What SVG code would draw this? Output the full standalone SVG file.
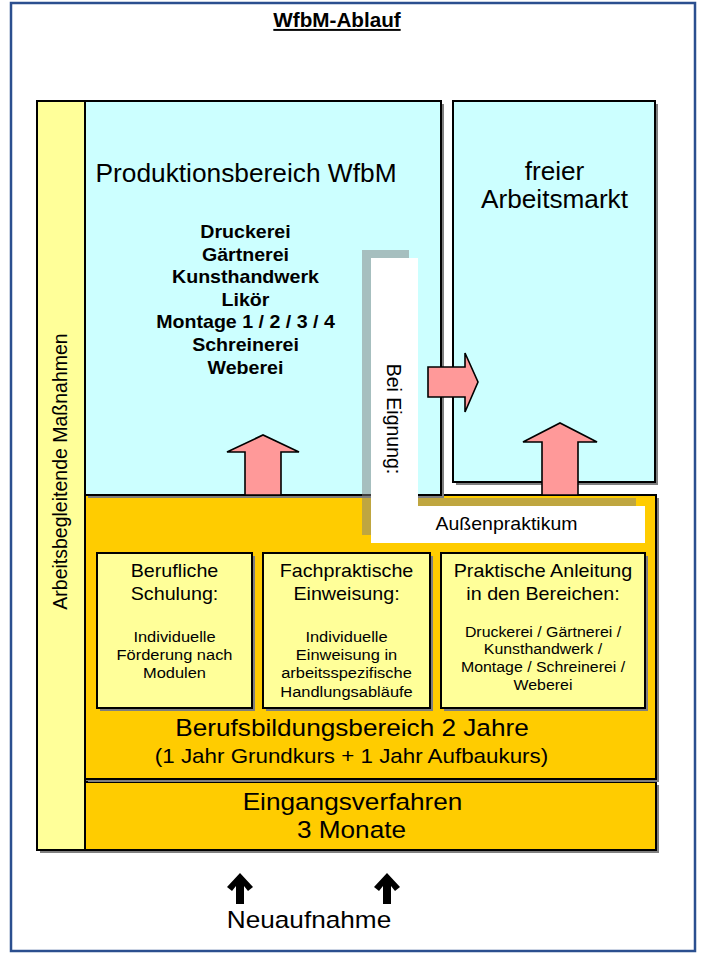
<svg xmlns="http://www.w3.org/2000/svg" width="710" height="954" viewBox="0 0 710 954">
<defs>
<style>
.box{stroke:#000;stroke-width:2}
.sh{fill:#7f7f7f}
.t{font-family:"Liberation Sans",Arial,sans-serif;fill:#000;text-anchor:middle}
.b{font-weight:bold}
.big{font-size:24.7px}
.mid{font-size:18.6px}
.sm{font-size:15.5px}
.blk{fill:#FF9999;stroke:#000;stroke-width:1.6;stroke-linejoin:miter}
.nav{fill:#000}
</style>
</defs>
<rect width="710" height="954" fill="#fff"/>
<rect x="11" y="3" width="684" height="948" fill="none" stroke="#2B4F8F" stroke-width="2.5"/>

<g id="title">
<text class="t b" font-size="19.5" text-decoration="underline" transform="translate(337 0) scale(1.06 1)" y="27">WfbM-Ablauf</text>
</g>

<g id="begleitend">
<rect class="sh" x="40" y="104" width="48" height="749"/>
<rect class="box" x="37" y="101" width="48" height="749" fill="#FFFF99"/>
<text class="t" font-size="19.5" transform="translate(67 471.5) rotate(-90)">Arbeitsbegleitende Maßnahmen</text>
</g>

<g id="eingang">
<rect class="sh" x="88" y="785" width="571" height="68"/>
<rect class="box" x="85" y="782" width="571" height="68" fill="#FFCC00"/>
<text class="t big" transform="translate(352.5 0) scale(1.06 1)" y="810">Eingangsverfahren</text>
<text class="t big" transform="translate(351.5 0) scale(1.06 1)" y="838">3 Monate</text>
</g>

<g id="berufsbildung">
<rect class="sh" x="88" y="498" width="571" height="284"/>
<rect class="box" x="85" y="495" width="571" height="284" fill="#FFCC00"/>
<text class="t big" transform="translate(352 0) scale(1.06 1)" y="736">Berufsbildungsbereich 2 Jahre</text>
<text class="t" font-size="21.1" transform="translate(351.5 0) scale(1.06 1)" y="763">(1 Jahr Grundkurs + 1 Jahr Aufbaukurs)</text>
</g>

<g id="produktion">
<rect class="sh" x="88" y="104" width="356" height="394"/>
<rect class="box" x="85" y="101" width="356" height="394" fill="#CCFFFF"/>
<text class="t" font-size="26.3" x="246" y="182">Produktionsbereich WfbM</text>
<g class="t b" font-size="18.5" transform="translate(245.5 0) scale(1.06 1)">
<text x="0" y="238">Druckerei</text>
<text x="0" y="260.6">Gärtnerei</text>
<text x="0" y="283.2">Kunsthandwerk</text>
<text x="0" y="305.8">Likör</text>
<text x="0" y="328.4">Montage 1 / 2 / 3 / 4</text>
<text x="0" y="351">Schreinerei</text>
<text x="0" y="373.6">Weberei</text>
</g>
</g>

<g id="arbeitsmarkt">
<rect class="sh" x="456" y="104" width="202" height="381"/>
<rect class="box" x="453" y="101" width="202" height="381" fill="#CCFFFF"/>
<g class="t" font-size="26.2">
<text x="554.5" y="180">freier</text>
<text x="554.5" y="208">Arbeitsmarkt</text>
</g>
</g>

<g id="schulung">
<rect class="sh" x="100" y="556" width="155" height="155"/>
<rect class="box" x="97" y="553" width="155" height="155" fill="#FFFF99"/>
<g class="t" transform="translate(174.5 0) scale(1.06 1)">
<text class="mid" x="0" y="577">Berufliche</text>
<text class="mid" x="0" y="600">Schulung:</text>
<text class="sm" x="0" y="642">Individuelle</text>
<text class="sm" x="0" y="660">Förderung nach</text>
<text class="sm" x="0" y="678">Modulen</text>
</g>
</g>

<g id="einweisung">
<rect class="sh" x="266" y="556" width="167" height="155"/>
<rect class="box" x="263" y="553" width="167" height="155" fill="#FFFF99"/>
<g class="t" transform="translate(346.5 0) scale(1.06 1)">
<text class="mid" x="0" y="577">Fachpraktische</text>
<text class="mid" x="0" y="600">Einweisung:</text>
<text class="sm" x="0" y="642">Individuelle</text>
<text class="sm" x="0" y="660">Einweisung in</text>
<text class="sm" x="0" y="678">arbeitsspezifische</text>
<text class="sm" x="0" y="697">Handlungsabläufe</text>
</g>
</g>

<g id="anleitung">
<rect class="sh" x="444" y="556" width="204" height="155"/>
<rect class="box" x="441" y="553" width="204" height="155" fill="#FFFF99"/>
<g class="t" transform="translate(543 0) scale(1.06 1)">
<text class="mid" x="0" y="577">Praktische Anleitung</text>
<text class="mid" x="0" y="600">in den Bereichen:</text>
<text font-size="15" x="0" y="637">Druckerei / Gärtnerei /</text>
<text font-size="15" x="0" y="654">Kunsthandwerk /</text>
<text font-size="15" x="0" y="672">Montage / Schreinerei /</text>
<text font-size="15" x="0" y="690">Weberei</text>
</g>
</g>

<g id="aussenpraktikum">
<polygon points="362,250 409,250 409,498 636,498 636,535 362,535" fill="#808080" fill-opacity="0.5"/>
<polygon points="371,258 418,258 418,506 645,506 645,543 371,543" fill="#fff"/>
<text class="t" font-size="19.5" transform="translate(387 419) rotate(90)">Bei Eignung:</text>
<text class="t" font-size="18.4" transform="translate(506.5 0) scale(1.06 1)" y="530">Außenpraktikum</text>
</g>

<g id="connectors">
<polygon class="blk" points="245,495 245,452 227,452 263,435 299,452 281,452 281,495"/>
<polygon class="blk" points="542,495 542,442 523,442 560,423 597,442 578,442 578,495"/>
<polygon class="blk" points="428,367 465,367 465,353 478,382 465,412 465,397 428,397"/>
<polygon class="nav" points="240,873 253,887 248,891 244,886 244,904 236,904 236,886 232,891 227,887"/>
<polygon class="nav" points="387,873 400,887 395,891 391,886 391,904 383,904 383,886 379,891 374,887"/>
</g>

<g id="neuaufnahme">
<text class="t big" transform="translate(309 0) scale(1.06 1)" y="928">Neuaufnahme</text>
</g>
</svg>
